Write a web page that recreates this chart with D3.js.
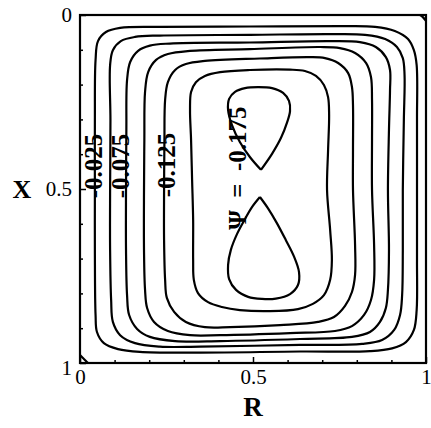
<!DOCTYPE html>
<html>
<head>
<meta charset="utf-8">
<script src="https://cdn.jsdelivr.net/npm/d3@7"></script>
<style>
  body { margin: 0; background: #fff; }
  svg { display: block; }
</style>
</head>
<body>
<div id="chart"></div>
<script>
// contour lines of the stream function as [R, X]
const psi025 = [[0.043,0.503],[0.043,0.302],[0.045,0.129],[0.052,0.075],[0.075,0.049],[0.116,0.037],[0.231,0.034],[0.491,0.033],[0.751,0.032],[0.853,0.034],[0.910,0.046],[0.948,0.069],[0.965,0.101],[0.973,0.144],[0.974,0.302],[0.974,0.503],[0.974,0.704],[0.973,0.848],[0.965,0.905],[0.942,0.940],[0.902,0.958],[0.838,0.966],[0.636,0.967],[0.347,0.970],[0.173,0.968],[0.110,0.960],[0.069,0.943],[0.049,0.911],[0.045,0.862],[0.043,0.675]];
const psi050 = [[0.087,0.503],[0.088,0.302],[0.087,0.144],[0.095,0.101],[0.118,0.075],[0.159,0.063],[0.231,0.059],[0.491,0.057],[0.723,0.055],[0.824,0.057],[0.882,0.069],[0.916,0.092],[0.933,0.124],[0.938,0.172],[0.936,0.302],[0.933,0.503],[0.933,0.675],[0.931,0.805],[0.925,0.862],[0.908,0.905],[0.873,0.934],[0.815,0.945],[0.636,0.948],[0.347,0.953],[0.231,0.953],[0.159,0.943],[0.116,0.920],[0.095,0.882],[0.090,0.819],[0.087,0.675]];
const psi075 = [[0.133,0.503],[0.134,0.330],[0.136,0.187],[0.145,0.135],[0.168,0.103],[0.202,0.088],[0.260,0.082],[0.491,0.079],[0.723,0.075],[0.809,0.078],[0.855,0.092],[0.884,0.121],[0.896,0.158],[0.896,0.216],[0.893,0.330],[0.890,0.503],[0.893,0.675],[0.890,0.790],[0.884,0.842],[0.867,0.882],[0.838,0.911],[0.786,0.925],[0.636,0.931],[0.405,0.937],[0.275,0.937],[0.202,0.925],[0.165,0.902],[0.142,0.862],[0.136,0.805],[0.133,0.675]];
const psi100 = [[0.185,0.503],[0.186,0.359],[0.188,0.221],[0.197,0.164],[0.220,0.129],[0.254,0.112],[0.318,0.103],[0.491,0.098],[0.694,0.092],[0.751,0.095],[0.795,0.109],[0.827,0.138],[0.841,0.178],[0.844,0.244],[0.844,0.359],[0.844,0.503],[0.850,0.661],[0.850,0.761],[0.841,0.819],[0.821,0.862],[0.786,0.894],[0.737,0.908],[0.607,0.914],[0.405,0.920],[0.318,0.920],[0.254,0.908],[0.214,0.882],[0.194,0.842],[0.188,0.790],[0.185,0.675]];
const psi125 = [[0.243,0.503],[0.244,0.359],[0.246,0.244],[0.254,0.193],[0.275,0.158],[0.306,0.141],[0.361,0.132],[0.520,0.125],[0.665,0.121],[0.708,0.124],[0.746,0.138],[0.775,0.167],[0.786,0.207],[0.789,0.259],[0.789,0.388],[0.789,0.503],[0.795,0.661],[0.795,0.747],[0.786,0.796],[0.766,0.836],[0.734,0.868],[0.688,0.882],[0.578,0.891],[0.434,0.897],[0.361,0.897],[0.306,0.882],[0.272,0.853],[0.251,0.813],[0.246,0.761],[0.243,0.647]];
const psi150 = [[0.324,0.474],[0.321,0.359],[0.318,0.273],[0.321,0.221],[0.335,0.193],[0.361,0.175],[0.405,0.164],[0.491,0.158],[0.607,0.157],[0.650,0.161],[0.682,0.175],[0.705,0.201],[0.717,0.236],[0.720,0.287],[0.717,0.388],[0.714,0.503],[0.723,0.618],[0.728,0.704],[0.723,0.761],[0.705,0.805],[0.673,0.830],[0.630,0.845],[0.549,0.851],[0.462,0.848],[0.410,0.839],[0.370,0.825],[0.341,0.799],[0.329,0.761],[0.327,0.704],[0.327,0.589]];

// the two cores of psi = -0.175 (open, both ends at the cusp)
const psi175Upper = [[0.523,0.445],[0.491,0.408],[0.462,0.365],[0.439,0.316],[0.428,0.273],[0.431,0.241],[0.448,0.221],[0.477,0.210],[0.514,0.207],[0.555,0.210],[0.587,0.224],[0.604,0.247],[0.607,0.276],[0.598,0.310],[0.581,0.353],[0.555,0.399],[0.523,0.445]];
const psi175Lower = [[0.520,0.523],[0.543,0.555],[0.569,0.598],[0.595,0.647],[0.618,0.693],[0.633,0.739],[0.630,0.776],[0.607,0.802],[0.566,0.815],[0.526,0.816],[0.486,0.810],[0.451,0.790],[0.431,0.759],[0.428,0.718],[0.436,0.675],[0.454,0.629],[0.477,0.586],[0.497,0.552],[0.520,0.523]];

// tiny corner eddies
const eddyTopRight = [[0.983,0],[0.991,0.006],[1,0.017]];
const eddyBottomLeft = [[0,0.977],[0.012,0.989],[0.023,1]];

const closedRings = [psi025, psi050, psi075, psi100, psi125, psi150];
const openLines = [psi175Upper, psi175Lower, eddyTopRight, eddyBottomLeft];

// contour labels: [R, X, text]
const contourLabels = [
  [0.038, 0.434, '-0.025'],
  [0.116, 0.434, '-0.075'],
  [0.251, 0.431, '-0.125'],
  [0.454, 0.440, 'Ψ  =  -0.175']
];

const rTicks = [0, 0.5, 1];
const xTicks = [0, 0.5, 1];
const minorTicks = [0.1, 0.2, 0.3, 0.4, 0.6, 0.7, 0.8, 0.9];

const width = 431;
const height = 428;
const margin = { top: 15, right: 5, bottom: 65, left: 80 };
const serif = '"Liberation Serif", "Times New Roman", serif';

const xScale = d3.scaleLinear()
    .domain([0, 1])
    .range([margin.left, width - margin.right]);

const yScale = d3.scaleLinear()
    .domain([0, 1])
    .range([margin.top, height - margin.bottom]);

const svg = d3.select('#chart')
    .append('svg')
    .attr('width', width)
    .attr('height', height);

const line = d3.line()
    .x(d => xScale(d[0]))
    .y(d => yScale(d[1]));

const contours = svg.append('g')
    .attr('fill', 'none')
    .attr('stroke', '#000')
    .attr('stroke-width', 2.2)
    .attr('stroke-linejoin', 'round');

contours.selectAll('path.ring')
    .data(closedRings)
    .join('path')
    .attr('class', 'ring')
    .attr('d', line.curve(d3.curveCatmullRomClosed.alpha(0.5)));

contours.selectAll('path.open')
    .data(openLines)
    .join('path')
    .attr('class', 'open')
    .attr('d', d3.line()
        .x(d => xScale(d[0]))
        .y(d => yScale(d[1]))
        .curve(d3.curveCatmullRom.alpha(0.5)));

// frame
svg.append('rect')
    .attr('x', xScale(0))
    .attr('y', yScale(0))
    .attr('width', xScale(1) - xScale(0))
    .attr('height', yScale(1) - yScale(0))
    .attr('fill', 'none')
    .attr('stroke', '#000')
    .attr('stroke-width', 2.2);

// axes, ticks pointing inward
function styleAxis(g) {
    g.select('.domain').remove();
    g.selectAll('line').attr('stroke', '#000').attr('stroke-width', 1.5);
    g.selectAll('text')
        .attr('font-family', serif)
        .attr('font-size', 21)
        .attr('fill', '#000');
}

svg.append('g')
    .attr('transform', `translate(0, ${yScale(1)})`)
    .call(d3.axisBottom(xScale).tickValues(minorTicks).tickSize(-3).tickFormat(''))
    .call(styleAxis);

svg.append('g')
    .attr('transform', `translate(0, ${yScale(1)})`)
    .call(d3.axisBottom(xScale).tickValues(rTicks).tickSize(-6).tickPadding(6).tickFormat(d => String(d)))
    .call(styleAxis);

svg.append('g')
    .attr('transform', `translate(${xScale(0)}, 0)`)
    .call(d3.axisLeft(yScale).tickValues(minorTicks).tickSize(-3).tickFormat(''))
    .call(styleAxis);

const yAxis = svg.append('g')
    .attr('transform', `translate(${xScale(0)}, 0)`)
    .call(d3.axisLeft(yScale).tickValues(xTicks).tickSize(-6).tickPadding(8).tickFormat(d => String(d)))
    .call(styleAxis);

yAxis.selectAll('.tick text')
    .filter(d => d === 1)
    .attr('dy', '0.55em');

// axis titles
svg.append('text')
    .attr('x', (xScale(0) + xScale(1)) / 2)
    .attr('y', 416)
    .attr('text-anchor', 'middle')
    .attr('font-family', serif)
    .attr('font-weight', 'bold')
    .attr('font-size', 27)
    .text('R');

svg.append('text')
    .attr('x', 22)
    .attr('y', yScale(0.5))
    .attr('dy', '0.35em')
    .attr('text-anchor', 'middle')
    .attr('font-family', serif)
    .attr('font-weight', 'bold')
    .attr('font-size', 26)
    .text('X');

// contour labels, rotated along the lines
svg.append('g')
    .selectAll('text')
    .data(contourLabels)
    .join('text')
    .attr('transform', d => `translate(${xScale(d[0])}, ${yScale(d[1])}) rotate(-90)`)
    .attr('text-anchor', 'middle')
    .attr('dominant-baseline', 'central')
    .attr('font-family', serif)
    .attr('font-weight', 'bold')
    .attr('font-size', 25)
    .style('white-space', 'pre')
    .text(d => d[2]);
</script>
</body>
</html>
